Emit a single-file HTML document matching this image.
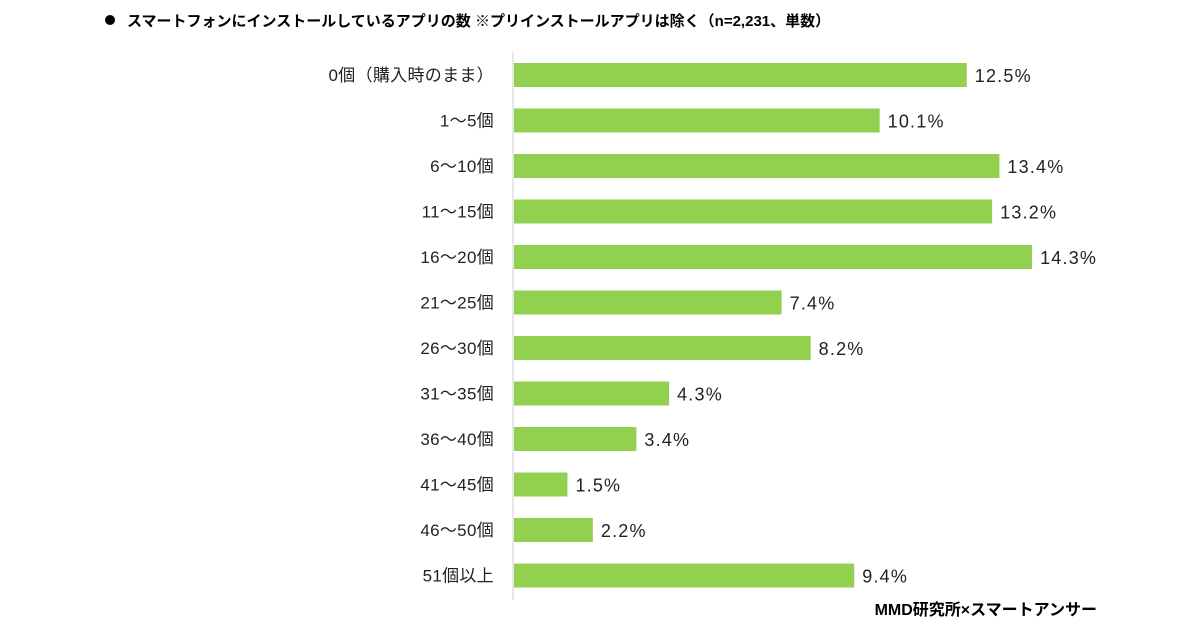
<!DOCTYPE html>
<html><head><meta charset="utf-8"><style>
body{margin:0;width:1200px;height:630px;background:#fff;overflow:hidden;font-family:"Liberation Sans","Noto Sans CJK JP",sans-serif;}
</style></head><body>
<svg width="1200" height="630" xmlns="http://www.w3.org/2000/svg" font-family="Liberation Sans, Noto Sans CJK JP, sans-serif">
<circle cx="110" cy="20" r="5" fill="#000"/>
<text x="127" y="26" font-size="15" font-weight="bold" fill="#000">スマートフォンにインストールしているアプリの数 ※プリインストールアプリは除く（n=2,231、単数）</text>
<line x1="513" y1="52" x2="513" y2="600" stroke="#d0d0d0" stroke-width="1"/>
<g id="bars"></g>
<text x="1097" y="615" font-size="16" font-weight="bold" text-anchor="end" fill="#000">MMD研究所×スマートアンサー</text>
</svg>
<script>
const categories=["0個（購入時のまま）","1～5個","6～10個","11～15個","16～20個","21～25個","26～30個","31～35個","36～40個","41～45個","46～50個","51個以上"];
const values=[12.5,10.1,13.4,13.2,14.3,7.4,8.2,4.3,3.4,1.5,2.2,9.4];
const x0=513, pxPer=36.3, y0=75, step=45.5, bh=24;
const xs=v=>x0+v*pxPer, ys=i=>y0+i*step;
const g=document.getElementById('bars');
const ns="http://www.w3.org/2000/svg";
categories.forEach((c,i)=>{
  const y=ys(i);
  const r=document.createElementNS(ns,'rect');
  r.setAttribute('x',x0+1);r.setAttribute('y',y-bh/2);r.setAttribute('width',xs(values[i])-x0-1);r.setAttribute('height',bh);r.setAttribute('fill','#92d050');
  
  
  g.appendChild(r);
  const l=document.createElementNS(ns,'text');
  l.setAttribute('x',494);l.setAttribute('y',y+6);l.setAttribute('text-anchor','end');l.setAttribute('font-size','17');l.setAttribute('fill','#222');l.setAttribute('letter-spacing','0.3');
  l.textContent=c;
  
  
  g.appendChild(l);
  const v=document.createElementNS(ns,'text');
  v.setAttribute('x',xs(values[i])+8);v.setAttribute('y',y+7);v.setAttribute('font-size','18');v.setAttribute('fill','#222');v.setAttribute('letter-spacing','1.2');
  v.textContent=values[i].toFixed(1)+'%';
  
  
  g.appendChild(v);
});
</script>
</body></html>
